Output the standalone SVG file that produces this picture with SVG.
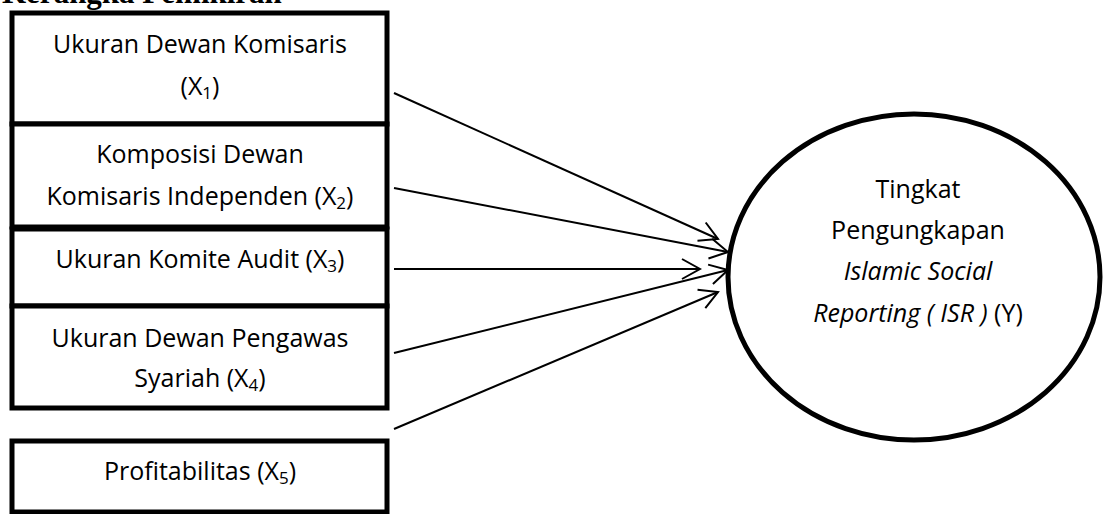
<svg xmlns="http://www.w3.org/2000/svg" width="1105" height="514" viewBox="0 0 1105 514">
<style>
.box{fill:#fff;stroke:#000;stroke-width:5}
.lbl{font-family:"Open Sans","Liberation Sans",sans-serif;font-size:25px;fill:#000;text-anchor:middle}
.sub{font-size:17px}
.conn{stroke:#000;stroke-width:2;fill:none}
.title{font-family:"Liberation Serif",serif;font-weight:bold;font-size:31px;fill:#000}
</style>
<defs>
<marker id="arr" viewBox="-22 -13 24 26" refX="0" refY="0" markerWidth="24" markerHeight="26" markerUnits="userSpaceOnUse" orient="auto">
<path d="M-18,-10 L0,0 L-18,10" fill="none" stroke="#000" stroke-width="2"/>
</marker>
</defs>
<rect width="1105" height="514" fill="#fff"/>
<text class="title" x="2" y="3">Kerangka Pemikiran</text>
<g id="x1">
<rect class="box" x="12" y="13" width="375" height="111"/>
<text class="lbl" x="200" y="53">Ukuran Dewan Komisaris</text>
<text class="lbl" x="200" y="95">(X<tspan class="sub" dy="4">1</tspan><tspan dy="-4">)</tspan></text>
</g>
<g id="x2">
<rect class="box" x="12" y="124" width="375" height="103"/>
<text class="lbl" x="200" y="163">Komposisi Dewan</text>
<text class="lbl" x="200" y="205">Komisaris Independen (X<tspan class="sub" dy="4">2</tspan><tspan dy="-4">)</tspan></text>
</g>
<g id="x3">
<rect class="box" x="12" y="229" width="375" height="77"/>
<text class="lbl" x="200" y="268">Ukuran Komite Audit (X<tspan class="sub" dy="4">3</tspan><tspan dy="-4">)</tspan></text>
</g>
<g id="x4">
<rect class="box" x="12" y="306" width="375" height="102"/>
<text class="lbl" x="200" y="347">Ukuran Dewan Pengawas</text>
<text class="lbl" x="200" y="387">Syariah (X<tspan class="sub" dy="4">4</tspan><tspan dy="-4">)</tspan></text>
</g>
<g id="x5">
<rect class="box" x="12" y="441" width="375" height="71"/>
<text class="lbl" x="200" y="480">Profitabilitas (X<tspan class="sub" dy="4">5</tspan><tspan dy="-4">)</tspan></text>
</g>
<g id="y">
<ellipse cx="914" cy="277" rx="186" ry="163" fill="#fff" stroke="#000" stroke-width="5"/>
<text class="lbl" x="918" y="198">Tingkat</text>
<text class="lbl" x="918" y="239">Pengungkapan</text>
<text class="lbl" x="918" y="280" font-style="italic">Islamic Social</text>
<text class="lbl" x="918" y="322"><tspan font-style="italic">Reporting ( ISR )</tspan> (Y)</text>
</g>
<g id="connectors">
<line class="conn" x1="394" y1="93" x2="718" y2="239" marker-end="url(#arr)"/>
<line class="conn" x1="394" y1="188" x2="728" y2="252" marker-end="url(#arr)"/>
<line class="conn" x1="394" y1="269" x2="700" y2="269" marker-end="url(#arr)"/>
<line class="conn" x1="394" y1="353" x2="728" y2="270" marker-end="url(#arr)"/>
<line class="conn" x1="394" y1="429" x2="718" y2="292" marker-end="url(#arr)"/>
</g>
</svg>
